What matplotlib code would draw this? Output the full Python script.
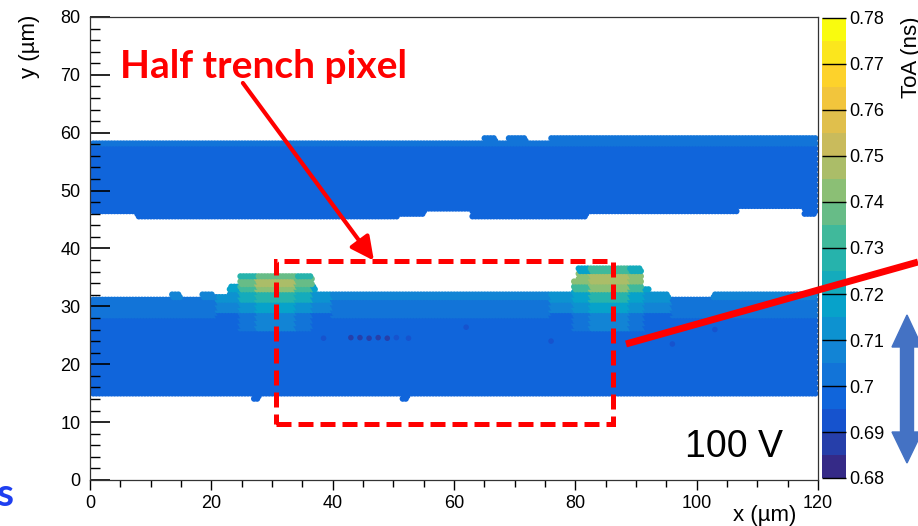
import numpy as np
import matplotlib
matplotlib.use('Agg')
import matplotlib.pyplot as plt
from matplotlib.colors import LinearSegmentedColormap, ListedColormap, BoundaryNorm
from matplotlib.patches import Rectangle, Polygon
from matplotlib.lines import Line2D

plt.rcParams['font.family'] = ['Liberation Sans', 'DejaVu Sans']

W, H = 918, 526  # figure size in pixels

# ---------------- data ----------------
# upper band outline (x edges of segments, outer y edge in um)
top_hi_x = [0, 65, 67, 69, 72, 76, 120]
top_hi_y = [58.9, 59.9, 58.9, 59.9, 58.9, 59.6]
top_lo_x = [0, 7.7, 51, 55.2, 63, 82, 106.8, 117.8, 120]
top_lo_y = [45.7, 44.8, 45.4, 46.3, 44.8, 45.7, 46.5, 45.3]

# lower band outline
bot_hi_x = [0, 13.5, 15, 18.5, 20.5, 23, 24.7, 36.6, 37.3, 79.6, 80.4, 91, 92.2, 95.5, 102.6, 120]
bot_hi_y = [32.0, 32.8, 32.0, 32.8, 32.3, 33.9, 36.0, 33.9, 32.8, 35.1, 37.0, 33.4, 32.7, 32.0, 32.7]
bot_lo_x = [0, 27, 28, 51.5, 52.5, 120]
bot_lo_y = [14.3, 13.4, 14.3, 13.4, 14.3]

# ToA (ns) by row
top_row_y = [44, 47, 51, 56, 58]
top_row_toa = [0.698, 0.697, 0.698, 0.699, 0.701]
bot_row_y = [13, 26, 28, 30, 31.5]
bot_row_toa = [0.696, 0.698, 0.701, 0.703, 0.707]

# the two bumps at the half trench pixel edges
b1_x = [21, 24.7, 27.5, 34, 36.6, 40]
b1_y = [26, 29, 31, 32.5, 33.8, 35, 37]
b1_toa = [[0.700, 0.704, 0.706, 0.704, 0.700],
          [0.706, 0.712, 0.716, 0.712, 0.706],
          [0.712, 0.722, 0.726, 0.722, 0.712],
          [0.718, 0.733, 0.740, 0.733, 0.718],
          [np.nan, 0.738, 0.747, 0.738, np.nan],
          [np.nan, 0.728, 0.736, 0.728, np.nan]]
b2_x = [76, 79.6, 82.5, 89, 91.5, 96]
b2_y = [26, 29, 31, 32.5, 34, 35.8, 37.5]
b2_toa = [[0.700, 0.704, 0.706, 0.704, 0.700],
          [0.706, 0.712, 0.716, 0.712, 0.706],
          [0.712, 0.720, 0.726, 0.720, 0.712],
          [0.716, 0.733, 0.740, 0.733, 0.716],
          [0.722, 0.740, 0.747, 0.740, np.nan],
          [np.nan, 0.720, 0.730, 0.722, np.nan]]

# a few darker pixels in the lower band
spot_x = [38.5, 43, 44.5, 46, 47.5, 49, 50.5, 52.5, 62, 76, 96, 103]
spot_y = [24.5, 24.6, 24.6, 24.5, 24.6, 24.5, 24.6, 24.5, 26.4, 24.0, 23.5, 26.0]
spot_toa = [0.692, 0.689, 0.688, 0.689, 0.688, 0.689, 0.692, 0.692, 0.692, 0.692, 0.692, 0.692]

cbar_ticks = [0.68, 0.69, 0.70, 0.71, 0.72, 0.73, 0.74, 0.75, 0.76, 0.77, 0.78]

# ROOT kBird palette, 20 contours
bird_r = [0.2082, 0.0592, 0.0780, 0.0232, 0.1802, 0.5301, 0.8186, 0.9956, 0.9764]
bird_g = [0.1664, 0.3599, 0.5041, 0.6419, 0.7178, 0.7492, 0.7328, 0.7862, 0.9832]
bird_b = [0.5293, 0.8684, 0.8385, 0.7914, 0.6425, 0.4662, 0.3499, 0.1968, 0.0539]
bird = LinearSegmentedColormap.from_list('bird', list(zip(bird_r, bird_g, bird_b)))
cmap = ListedColormap(bird(np.linspace(0, 1, 20)))
norm = BoundaryNorm(np.linspace(0.68, 0.78, 21), 20)


def step(edges, vals, v):
    i = np.clip(np.searchsorted(edges, v, side='right') - 1, 0, len(vals) - 1)
    return np.asarray(vals)[i]


def fpx(x, y):
    return x / W, 1 - y / H


# pixel lattice of the hit map
DX, DY, R = 0.5, 0.45, 0.45
rows = np.arange(10, 62, DY)
cols = [np.arange(0.3 + (k % 2) * DX / 2, 119.6, DX) for k in range(len(rows))]
LX = np.concatenate(cols)
LY = np.concatenate([np.full(len(c), y) for c, y in zip(cols, rows)])


def band(hi_x, hi_y, lo_x, lo_y, row_y, row_toa, bumps):
    ok = (LY >= step(lo_x, lo_y, LX) + R) & (LY <= step(hi_x, hi_y, LX) - R)
    x, y = LX[ok], LY[ok]
    v = step(row_y, row_toa, y).astype(float)
    for bx, by, bt in bumps:
        bt = np.asarray(bt)
        inb = (x >= bx[0]) & (x < bx[-1]) & (y >= by[0]) & (y < by[-1])
        ix = np.clip(np.searchsorted(bx, x, 'right') - 1, 0, bt.shape[1] - 1)
        iy = np.clip(np.searchsorted(by, y, 'right') - 1, 0, bt.shape[0] - 1)
        bv = bt[iy, ix]
        sel = inb & ~np.isnan(bv)
        v[sel] = bv[sel]
    return x, y, v


fig = plt.figure(figsize=(W / 100, H / 100), dpi=100)
ax = fig.add_axes([90 / W, 1 - 480 / H, 728 / W, 463 / H])
cax = fig.add_axes([822 / W, 1 - 478 / H, 24 / W, 460 / H])

tx, ty, tv = band(top_hi_x, top_hi_y, top_lo_x, top_lo_y, top_row_y, top_row_toa, [])
bx_, by_, bv_ = band(bot_hi_x, bot_hi_y, bot_lo_x, bot_lo_y, bot_row_y, bot_row_toa,
                     [(b1_x, b1_y, b1_toa), (b2_x, b2_y, b2_toa)])
sc = ax.scatter(np.r_[tx, bx_], np.r_[ty, by_], c=np.r_[tv, bv_], cmap=cmap, norm=norm,
                s=20, linewidths=0, zorder=1)
ax.scatter(spot_x, spot_y, c=spot_toa, cmap=cmap, norm=norm, s=16, linewidths=0, zorder=1)

ax.set_xlim(0, 120)
ax.set_ylim(0, 80)
ax.set_xticks(np.arange(0, 121, 20))
ax.set_xticks(np.arange(0, 121, 5), minor=True)
ax.set_yticks(np.arange(0, 81, 10))
ax.set_yticks(np.arange(0, 81, 2), minor=True)
ax.tick_params(axis='x', which='major', direction='out', length=7, width=1, pad=4, labelsize=13)
ax.tick_params(axis='x', which='minor', direction='out', length=4.7, width=1)
ax.tick_params(axis='y', which='major', direction='in', length=14.4, width=1.2, pad=7, labelsize=13)
ax.tick_params(axis='y', which='minor', direction='in', length=7.2, width=1)
for s in ax.spines.values():
    s.set_color('#333333')
    s.set_linewidth(0.9)

cb = fig.colorbar(sc, cax=cax, ticks=cbar_ticks)
cb.outline.set_visible(False)
cb.ax.yaxis.set_major_formatter(plt.FuncFormatter(lambda v, p: f'{round(v, 2):g}'))
cb.ax.tick_params(direction='in', length=17, width=1, pad=2, labelsize=13, color='black')
cb.ax.minorticks_off()

fig.text(*fpx(30, 15), 'y (µm)', rotation=90, ha='center', va='top', fontsize=16)
fig.text(*fpx(796, 521), 'x (µm)', ha='right', va='baseline', fontsize=16)
fig.text(*fpx(912, 17), 'ToA (ns)', rotation=90, ha='center', va='top', fontsize=16)

# annotations
ax.text(4.9, 69.5, 'Half trench pixel', color='red', fontsize=28, fontweight='bold',
        family=['Lato', 'DejaVu Sans'], ha='left', va='baseline')
ax.annotate('', xy=(46.8, 37.9), xytext=(25.2, 68.6),
            arrowprops=dict(arrowstyle='-|>,head_length=0.7,head_width=0.35', color='red',
                            lw=3, mutation_scale=20, shrinkA=0, shrinkB=0))
ax.add_patch(Rectangle((30.6, 9.7), 86.2 - 30.6, 37.9 - 9.7, fill=False, ec='red', lw=3.6,
                       ls=(0, (3, 1.4)), zorder=5))
ax.text(98.0, 4.0, '100 V', fontsize=27, ha='left', va='baseline')

x0, y0 = fpx(626, 344)
x1, y1 = fpx(918, 262)
fig.add_artist(Line2D([x0, x1], [y0, y1], color='red', lw=5, solid_capstyle='butt'))

arrow_px = [(907, 315), (922, 347), (913.5, 347), (913.5, 432), (922, 432), (907, 463),
            (892, 432), (900.5, 432), (900.5, 347), (892, 347)]
fig.add_artist(Polygon([fpx(*p) for p in arrow_px], closed=True, color='#4472c4'))

fig.text(*fpx(13, 506), 's', color='#1f3ff0', fontsize=28, fontweight='bold',
         family=['Lato', 'DejaVu Sans'], ha='right', va='baseline')

fig.savefig('out.png', dpi=100)
